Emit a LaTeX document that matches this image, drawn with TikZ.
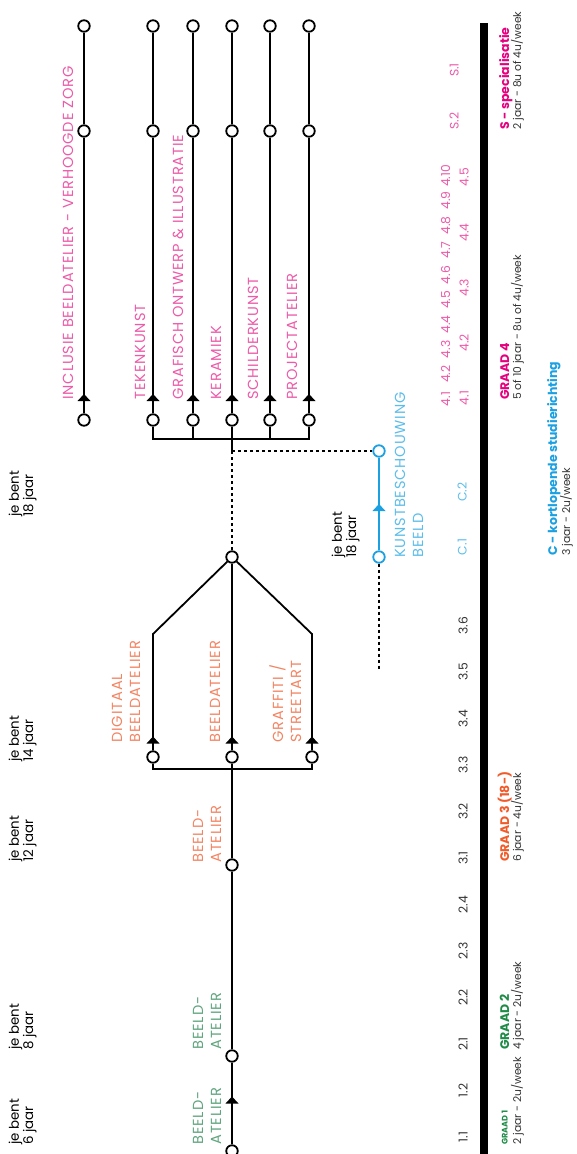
\documentclass[tikz,border=0pt]{standalone}
\usepackage{fontspec}
\setmainfont{Poppins}
\newfontfamily\ruimfont[LetterSpace=6]{Poppins}
\usetikzlibrary{positioning}

\definecolor{roze}{HTML}{EC5AA8}
\definecolor{graadvier}{HTML}{E6007E}
\definecolor{zalm}{HTML}{F28462}
\definecolor{oranje}{HTML}{F15A29}
\definecolor{lichtgroen}{HTML}{5FA57E}
\definecolor{groen}{HTML}{1E8B47}
\definecolor{blauw}{HTML}{1BA0E1}
\definecolor{lichtblauw}{HTML}{5CBDEA}
\definecolor{grijs}{HTML}{333333}

\tikzset{
  halte/.style={circle,draw=black,line width=0.36mm,fill=white,minimum size=2.3mm,inner sep=0pt},
  lijn/.style={line width=0.36mm},
  stippel/.style={line width=0.36mm,dash pattern=on 0.6mm off 0.6mm},
  tekst/.style={rotate=90,anchor=base west,inner sep=0pt,align=left,font=\ruimfont\fontsize{8.3}{10.2}\selectfont},
  jaren/.style={tekst,font=\fontsize{7.6}{8}\selectfont},
  nummer/.style={rotate=90,anchor=base,inner sep=0pt,font=\fontsize{7}{8}\selectfont},
  kop/.style={tekst,font=\bfseries\fontsize{7.1}{8}\selectfont},
  info/.style={tekst,grijs,font=\fontsize{6.1}{7}\selectfont},
  pijl/.pic={\fill (-6.5,3.5) -- (6.5,3.5) -- (0,-3.5) -- cycle;}
}

\begin{document}
\begin{tikzpicture}[x=0.2mm,y=-0.2mm]
\useasboundingbox (0,0) rectangle (577,1154);

% graad 1 - 3
\node[halte] (a1) at (232,1151) {};
\node[halte] (a2) at (232,1056) {};
\node[halte] (a3) at (232,865) {};
\coordinate (a4) at (232,769);
\node[halte] (b1) at (153,757) {};
\node[halte] (b2) at (232,757) {};
\node[halte] (b3) at (312,757) {};
\coordinate (b1k) at (153,634);
\coordinate (b3k) at (312,634);
\node[halte] (c1) at (232,557) {};
\coordinate (c2) at (232,451);

\draw[lijn] (a1) -- (a2) -- (a3) -- (a4) -- (b2);
\pic at (232,1100) {pijl};
\draw[lijn] (b1) |- (a4) -| (b3);
\draw[lijn] (b1) -- (b1k) -- (c1);
\draw[lijn] (b2) -- (c1);
\draw[lijn] (b3) -- (b3k) -- (c1);
\foreach \x in {153,232,312}
  \pic at (\x,740) {pijl};

% graad 4 en specialisatie
\foreach \n/\x in {1/84,2/153,3/193,4/232,5/270,6/309} {
  \node[halte] (k\n) at (\x,420) {};
  \node[halte] (m\n) at (\x,131) {};
  \node[halte] (t\n) at (\x,26) {};
  \draw[lijn] (k\n) -- (m\n) -- (t\n);
  \pic at (\x,397.5) {pijl};
}
\coordinate (k0) at (232,439);
\draw[lijn] (k2) |- (k0) -| (k6);
\draw[lijn] (k3) -- (k3 |- k0);
\draw[lijn] (k5) -- (k5 |- k0);
\draw[lijn] (k4) -- (c2);

% kortlopende studierichting
\node[halte,draw=blauw] (d1) at (379,557) {};
\node[halte,draw=blauw] (d2) at (379,451) {};
\coordinate (d0) at (379,670);
\draw[lijn,blauw] (d1) -- (d2);
\pic[blauw] at (379,507.5) {pijl};
\draw[stippel] (c2) -- (d2);
\draw[stippel] (c2) -- (c1);
\draw[stippel] (d1) -- (d0);

% leeftijden (positie = laatste regel)
\node[jaren] (j6) at (33,1145) {je bent\\6 jaar};
\node[jaren] (j8) at (33,1050) {je bent\\8 jaar};
\node[jaren] (j12) at (33,862) {je bent\\12 jaar};
\node[jaren] (j14) at (33,762) {je bent\\14 jaar};
\node[jaren] (j18) at (33,517) {je bent\\18 jaar};
\node[jaren] (j18c) at (356,558) {je bent\\18 jaar};

% ateliers
\node[tekst,lichtgroen] (t11) at (221,1145) {BEELD-\\ATELIER};
\node[tekst,lichtgroen] (t21) at (221,1050) {BEELD-\\ATELIER};
\node[tekst,zalm] (t31) at (221,863) {BEELD-\\ATELIER};
\node[tekst,zalm] (t33a) at (140,743) {DIGITAAL\\BEELDATELIER};
\node[tekst,zalm] (t33b) at (220,743) {BEELDATELIER};
\node[tekst,zalm] (t33c) at (301,743) {GRAFFITI /\\STREETART};
\node[tekst,roze] (t4a) at (73,400) {INCLUSIE BEELDATELIER - VERHOOGDE ZORG};
\node[tekst,roze] (t4b) at (145,400) {TEKENKUNST};
\node[tekst,roze] (t4c) at (183,400) {GRAFISCH ONTWERP \& ILLUSTRATIE};
\node[tekst,roze] (t4d) at (221,400) {KERAMIEK};
\node[tekst,roze] (t4e) at (258,400) {SCHILDERKUNST};
\node[tekst,roze] (t4f) at (297,400) {PROJECTATELIER};
\node[tekst,lichtblauw] (tc) at (423,558) {KUNSTBESCHOUWING\\BEELD};

% leerjaren
\foreach \t [count=\i from 0] in {1.1,1.2,2.1,2.2,2.3,2.4,3.1,3.2,3.3,3.4,3.5,3.6}
  \node[nummer,grijs] at (467.5,1137-46.5*\i) {\t};
\foreach \t [count=\i from 0] in {4.1,4.2,4.3,4.4,4.5,4.6,4.7,4.8,4.9,4.10}
  \node[nummer,roze] at (450,399-24.8*\i) {\t};
\foreach \t [count=\i from 0] in {4.1,4.2,4.3,4.4,4.5}
  \node[nummer,roze] at (468.5,398-55.2*\i) {\t};
\node[nummer,roze] (s2) at (458.5,121) {S.2};
\node[nummer,roze] (s1) at (458.5,70) {S.1};
\node[nummer,lichtblauw] (cc1) at (466.5,547) {C.1};
\node[nummer,lichtblauw] (cc2) at (466.5,492) {C.2};

\fill (480,23) rectangle (488,1154);

% graden
\node[tekst,groen,font=\bfseries\fontsize{4.6}{5}\selectfont] (g1) at (507.5,1145) {GRAAD 1};
\node[info] (g1i) at (521,1145) {2 jaar - 2u/week};
\node[kop,groen] (g2) at (509,1050) {GRAAD 2};
\node[info] (g2i) at (521,1050) {4 jaar - 2u/week};
\node[kop,oranje] (g3) at (509,862) {GRAAD 3 (18-)};
\node[info] (g3i) at (521,862) {6 jaar - 4u/week};
\node[kop,graadvier] (g4) at (509,400) {GRAAD 4};
\node[info] (g4i) at (521,400) {5 of 10 jaar - 8u of 4u/week};
\node[kop,graadvier] (gs) at (509,130) {S - specialisatie};
\node[info] (gsi) at (521,130) {2 jaar - 8u of 4u/week};
\node[kop,blauw] (gc) at (557,556) {C - kortlopende studierichting};
\node[info] (gci) at (570,556) {3 jaar - 2u/week};
\end{tikzpicture}
\end{document}
